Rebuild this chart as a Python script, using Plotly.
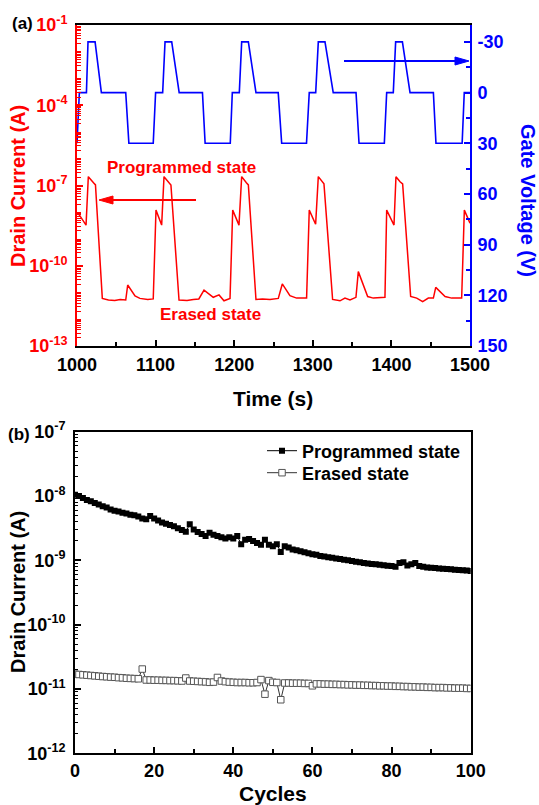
import plotly.graph_objects as go

W, H = 539, 805
FONT = "Liberation Sans, Arial, sans-serif"

# ---------------- Panel (a) data ----------------
time_red = [1000, 1003, 1011.5, 1014.4, 1021, 1023.5, 1032.2, 1040, 1048, 1055, 1062, 1064.5,
            1073.8, 1080, 1090, 1097,
            1100.5, 1107.7, 1110.7, 1117, 1119.5, 1129.8, 1140, 1148, 1155, 1161.6, 1173.4,
            1180.7, 1187, 1194.7,
            1198.1, 1206.1, 1209.5, 1215.5, 1218, 1227.7, 1236, 1245.5, 1256.1, 1261.2, 1270.9,
            1279.4, 1292.1,
            1295.5, 1303.6, 1307, 1312, 1314.2, 1325.2, 1334.6, 1340.9, 1347.3, 1354.9, 1357.9,
            1369.8, 1377, 1391.8,
            1394, 1403.3, 1405.8, 1411, 1414.3, 1424.5, 1432.2, 1439.8, 1447, 1453.4, 1456.4,
            1468.3, 1476.7, 1489.4,
            1492.8, 1500]
drain_current = [9.12e-9, 7.94e-9, 3.31e-9, 2.14e-7, 1.26e-7, 1.05e-7, 6.03e-12, 5.25e-12, 5.01e-12,
                 5.50e-12, 5.25e-12, 1.91e-11, 7.41e-12, 6.03e-12, 5.50e-12, 5.75e-12,
                 1.20e-8, 3.31e-9, 2.14e-7, 1.26e-7, 1.05e-7, 5.25e-12, 5.01e-12, 5.50e-12, 5.75e-12,
                 1.23e-11, 6.61e-12, 8.13e-12, 4.90e-12, 6.03e-12,
                 1.20e-8, 3.31e-9, 2.14e-7, 1.26e-7, 1.05e-7, 5.50e-12, 5.75e-12, 5.50e-12, 6.03e-12,
                 2.09e-11, 7.59e-12, 6.17e-12, 6.17e-12,
                 1.20e-8, 3.55e-9, 2.14e-7, 1.38e-7, 1.15e-7, 5.50e-12, 4.90e-12, 6.17e-12, 5.25e-12,
                 6.61e-12, 6.03e-11, 7.08e-12, 6.17e-12, 6.61e-12,
                 1.20e-8, 3.31e-9, 2.14e-7, 1.38e-7, 1.15e-7, 7.08e-12, 6.17e-12, 4.57e-12, 6.17e-12,
                 6.17e-12, 1.55e-11, 7.08e-12, 6.17e-12, 6.17e-12,
                 1.20e-8, 3.89e-9]

time_gate = [1000, 1003, 1012, 1014, 1023, 1031, 1062, 1066, 1097, 1100, 1109, 1112, 1120.5, 1130,
             1159.6, 1163, 1195, 1197.6, 1206.5, 1209.5, 1218, 1227.7, 1256, 1260.4, 1292, 1295.5,
             1303.7, 1307, 1315.5, 1326, 1355, 1358.8, 1391, 1394, 1402.4, 1405.4, 1414, 1423.7,
             1453.4, 1456.7, 1490, 1492.7, 1500]
gate_voltage = [30, 0, 0, -30, -30, 0, 0, 30, 30, 0, 0, -30, -30, 0,
                0, 30, 30, 0, 0, -30, -30, 0, 0, 30, 30, 0,
                0, -30, -30, 0, 0, 30, 30, 0, 0, -30, -30, 0,
                0, 30, 30, 0, 0]

# ---------------- Panel (b) data ----------------
cycles = list(range(0, 101))
programmed = [1.05e-8, 1.00e-8, 9.33e-9, 8.71e-9, 8.32e-9, 7.76e-9, 7.41e-9, 6.92e-9, 6.61e-9, 6.17e-9,
              5.89e-9, 5.75e-9, 5.50e-9, 5.37e-9, 5.13e-9, 5.01e-9, 4.79e-9, 4.47e-9, 4.37e-9, 4.90e-9,
              4.47e-9, 4.17e-9, 3.89e-9, 3.72e-9, 3.55e-9, 3.39e-9, 3.16e-9, 2.95e-9, 2.79e-9, 3.63e-9,
              3.02e-9, 2.75e-9, 2.57e-9, 2.40e-9, 2.69e-9, 2.51e-9, 2.40e-9, 2.29e-9, 2.19e-9, 2.29e-9,
              2.19e-9, 2.40e-9, 1.78e-9, 2.09e-9, 2.14e-9, 2.00e-9, 1.86e-9, 1.74e-9, 2.09e-9, 1.74e-9,
              1.66e-9, 1.78e-9, 1.35e-9, 1.66e-9, 1.58e-9, 1.48e-9, 1.43e-9, 1.38e-9, 1.33e-9, 1.29e-9,
              1.24e-9, 1.22e-9, 1.17e-9, 1.15e-9, 1.12e-9, 1.10e-9, 1.07e-9, 1.05e-9, 1.02e-9, 1.00e-9,
              9.77e-10, 9.55e-10, 9.33e-10, 9.12e-10, 8.91e-10, 8.81e-10, 8.71e-10, 8.51e-10, 8.41e-10, 8.22e-10,
              8.13e-10, 7.94e-10, 9.12e-10, 9.33e-10, 8.32e-10, 8.71e-10, 9.12e-10, 8.13e-10, 7.94e-10, 7.76e-10,
              7.67e-10, 7.59e-10, 7.50e-10, 7.41e-10, 7.33e-10, 7.24e-10, 7.16e-10, 7.08e-10, 7.00e-10, 6.92e-10,
              6.84e-10]
erased = [1.70e-11, 1.68e-11, 1.66e-11, 1.64e-11, 1.62e-11, 1.60e-11, 1.58e-11, 1.56e-11, 1.55e-11, 1.53e-11,
          1.52e-11, 1.50e-11, 1.49e-11, 1.47e-11, 1.46e-11, 1.45e-11, 1.44e-11, 2.04e-11, 1.38e-11, 1.38e-11,
          1.37e-11, 1.37e-11, 1.36e-11, 1.36e-11, 1.35e-11, 1.35e-11, 1.34e-11, 1.33e-11, 1.48e-11, 1.33e-11,
          1.32e-11, 1.31e-11, 1.30e-11, 1.29e-11, 1.27e-11, 1.28e-11, 1.51e-11, 1.33e-11, 1.30e-11, 1.28e-11,
          1.27e-11, 1.26e-11, 1.26e-11, 1.26e-11, 1.25e-11, 1.25e-11, 1.26e-11, 1.40e-11, 8.30e-12, 1.35e-11,
          1.27e-11, 1.26e-11, 6.80e-12, 1.24e-11, 1.24e-11, 1.23e-11, 1.23e-11, 1.23e-11, 1.22e-11, 1.22e-11,
          1.12e-11, 1.20e-11, 1.20e-11, 1.19e-11, 1.19e-11, 1.18e-11, 1.18e-11, 1.17e-11, 1.17e-11, 1.16e-11,
          1.16e-11, 1.15e-11, 1.15e-11, 1.14e-11, 1.14e-11, 1.13e-11, 1.13e-11, 1.12e-11, 1.12e-11, 1.11e-11,
          1.11e-11, 1.10e-11, 1.10e-11, 1.09e-11, 1.09e-11, 1.08e-11, 1.08e-11, 1.07e-11, 1.07e-11, 1.06e-11,
          1.06e-11, 1.05e-11, 1.05e-11, 1.05e-11, 1.04e-11, 1.04e-11, 1.03e-11, 1.03e-11, 1.03e-11, 1.02e-11,
          1.02e-11]

# tick labels
a_left_exps = [-13, -10, -7, -4, -1]
a_time_ticks = [1000, 1100, 1200, 1300, 1400, 1500]
a_volt_ticks = [-30, 0, 30, 60, 90, 120, 150]
b_left_exps = [-12, -11, -10, -9, -8, -7]
b_cycle_ticks = [0, 20, 40, 60, 80, 100]


def X(px):
    return px / W


def Y(py):
    return 1 - py / H


def minor_log(lo, hi, skip=()):
    vals = []
    for e in range(lo, hi + 1):
        if e not in skip:
            vals.append(10.0 ** e)
        if e < hi:
            vals += [m * 10.0 ** e for m in range(2, 10)]
    return vals


def bold(size, color="black"):
    return dict(family=FONT, size=size, color=color, weight="bold")


RED = "#FF0000"
BLUE = "#0000FF"
TICK = 18

fig = go.Figure()
fig.add_trace(go.Scatter(x=time_red, y=drain_current, mode="lines", line=dict(color=RED, width=1.5),
                         xaxis="x", yaxis="y", showlegend=False, name="Drain current"))
fig.add_trace(go.Scatter(x=time_gate, y=gate_voltage, mode="lines", line=dict(color=BLUE, width=1.6),
                         xaxis="x", yaxis="y2", showlegend=False, name="Gate voltage"))
fig.add_trace(go.Scatter(x=cycles, y=programmed, mode="lines+markers", name="Programmed state",
                         line=dict(color="black", width=1),
                         marker=dict(symbol="square", size=6, color="black"),
                         xaxis="x2", yaxis="y3", legend="legend"))
fig.add_trace(go.Scatter(x=cycles, y=erased, mode="lines+markers", name="Erased state",
                         line=dict(color="#333333", width=1),
                         marker=dict(symbol="square", size=6.5, color="white",
                                     line=dict(color="#555555", width=1)),
                         xaxis="x2", yaxis="y3", legend="legend2"))

a_major = [10.0 ** e for e in a_left_exps]
b_major = [10.0 ** e for e in b_left_exps]

common = dict(showgrid=False, zeroline=False, automargin=False)
leg = dict(xanchor="left", yanchor="middle", bgcolor="rgba(0,0,0,0)", font=bold(18),
           itemwidth=30, borderwidth=0)

fig.update_layout(
    width=W, height=H,
    margin=dict(l=0, r=0, t=0, b=0, pad=0, autoexpand=False),
    paper_bgcolor="white", plot_bgcolor="white",
    font=dict(family=FONT, color="black"),
    xaxis=dict(domain=[X(77), X(470)], anchor="y", range=[1000, 1500],
               tickmode="array", tickvals=a_time_ticks, ticktext=[str(t) for t in a_time_ticks],
               ticks="inside", ticklen=6, tickwidth=2, tickcolor="black",
               minor=dict(tickmode="array", tickvals=[1050, 1150, 1250, 1350, 1450],
                          ticks="inside", ticklen=4, tickwidth=2, tickcolor="black"),
               showline=True, linecolor="black", linewidth=2, mirror=True,
               tickfont=bold(TICK), ticklabelstandoff=1, **common),
    yaxis=dict(domain=[Y(346), Y(25)], anchor="x", type="log", range=[-13, -1],
               tickmode="array", tickvals=a_major,
               ticktext=[f"10<sup>{e}</sup>" for e in a_left_exps],
               ticks="inside", ticklen=6, tickwidth=1.5, tickcolor=RED,
               minor=dict(tickmode="array", tickvals=minor_log(-13, -1, a_left_exps), ticks="inside",
                          ticklen=4, tickwidth=1, tickcolor=RED),
               showline=True, linecolor=RED, linewidth=2,
               tickfont=bold(TICK, RED), ticklabelstandoff=4, **common),
    yaxis2=dict(domain=[Y(346), Y(25)], anchor="x", overlaying="y", side="right",
                range=[150, -40], tickmode="array", tickvals=a_volt_ticks,
                ticktext=[str(v) for v in a_volt_ticks],
                ticks="inside", ticklen=6, tickwidth=2, tickcolor=BLUE,
                minor=dict(tickmode="array", tickvals=[-15, 15, 45, 75, 105, 135], ticks="inside",
                           ticklen=4, tickwidth=1.5, tickcolor=BLUE),
                showline=True, linecolor=BLUE, linewidth=2,
                tickfont=bold(TICK, BLUE), ticklabelstandoff=2, **common),
    xaxis2=dict(domain=[X(75), X(470.7)], anchor="y3", range=[0, 100],
                tickmode="array", tickvals=b_cycle_ticks, ticktext=[str(t) for t in b_cycle_ticks],
                ticks="inside", ticklen=6, tickwidth=2, tickcolor="black",
                minor=dict(tickmode="array", tickvals=[10, 30, 50, 70, 90],
                           ticks="inside", ticklen=4, tickwidth=2, tickcolor="black"),
                showline=True, linecolor="black", linewidth=2, mirror=True,
                tickfont=bold(TICK), ticklabelstandoff=0, **common),
    yaxis3=dict(domain=[Y(753.3), Y(431.7)], anchor="x2", type="log", range=[-12, -7],
                tickmode="array", tickvals=b_major,
                ticktext=[f"10<sup>{e}</sup>" for e in b_left_exps],
                ticks="inside", ticklen=6, tickwidth=1.5, tickcolor="black",
                minor=dict(tickmode="array", tickvals=minor_log(-12, -7, b_left_exps), ticks="inside",
                           ticklen=3, tickwidth=1, tickcolor="black"),
                showline=True, linecolor="black", linewidth=2, mirror=True,
                tickfont=bold(TICK), ticklabelstandoff=4, **common),
    legend=dict(x=X(262), y=Y(451), **leg),
    legend2=dict(x=X(262), y=Y(473), **leg),
    showlegend=True,
)

annotations = [
    dict(text="(a)", x=X(22), y=Y(23), font=bold(17)),
    dict(text="(b)", x=X(19), y=Y(434), font=bold(17)),
    dict(text="Programmed state", x=X(181.5), y=Y(167), font=bold(17, RED)),
    dict(text="Erased state", x=X(210), y=Y(315), font=bold(17, RED)),
    dict(text="Drain Current (A)", x=X(18), y=Y(186), textangle=-90, font=bold(20, RED)),
    dict(text="Gate Voltage (V)", x=X(528), y=Y(200), textangle=90, font=bold(20, BLUE)),
    dict(text="Time (s)", x=X(273), y=Y(398), font=bold(21)),
    dict(text="Drain Current (A)", x=X(18), y=Y(592), textangle=-90, font=bold(20)),
    dict(text="Cycles", x=X(273), y=Y(793), font=bold(21)),
]
for a in annotations:
    a.update(xref="paper", yref="paper", showarrow=False, xanchor="center", yanchor="middle")
fig.update_layout(annotations=annotations)

# arrows (annotation graphics, drawn as shapes in paper space)
shapes = [
    dict(type="line", x0=X(196), y0=Y(200), x1=X(110), y1=Y(200), line=dict(color=RED, width=2)),
    dict(type="path", path=f"M{X(99)},{Y(200)} L{X(113)},{Y(196)} L{X(113)},{Y(204)} Z",
         fillcolor=RED, line=dict(color=RED, width=1)),
    dict(type="line", x0=X(344), y0=Y(61), x1=X(456), y1=Y(61), line=dict(color=BLUE, width=2)),
    dict(type="path", path=f"M{X(469)},{Y(61)} L{X(455)},{Y(57)} L{X(455)},{Y(65)} Z",
         fillcolor=BLUE, line=dict(color=BLUE, width=1)),
]
for s in shapes:
    s.update(xref="paper", yref="paper")
fig.update_layout(shapes=shapes)

fig.write_html("out.html", config={"displayModeBar": False},
               post_script="document.body.style.margin='0';document.body.style.padding='0';")
